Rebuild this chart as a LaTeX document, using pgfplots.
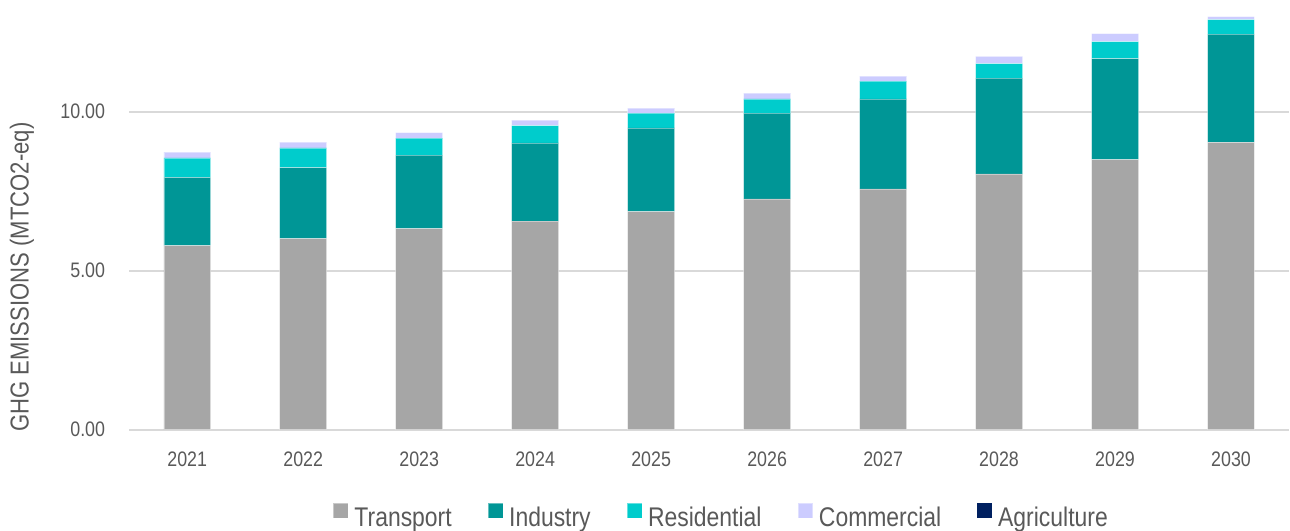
\documentclass[border=0pt]{standalone}
\usepackage{pgfplots}
\usepackage{pgfplotstable}
\pgfplotsset{compat=1.18}
\usepackage{fontspec}
\setmainfont{Liberation Sans}[FakeStretch=0.85]
\definecolor{txt}{HTML}{595959}
\definecolor{cT}{HTML}{A6A6A6}
\definecolor{cI}{HTML}{009696}
\definecolor{cR}{HTML}{00CCCC}
\definecolor{cC}{HTML}{CCCCFF}
\definecolor{cA}{HTML}{002060}
\definecolor{gridc}{HTML}{D9D9D9}
\pgfplotstableread{
x T I R C A
0 5.79 2.14 0.62 0.18 0
1 6.01 2.23 0.62 0.18 0
2 6.32 2.31 0.54 0.17 0
3 6.56 2.46 0.54 0.17 0
4 6.86 2.63 0.46 0.16 0
5 7.26 2.69 0.45 0.18 0
6 7.57 2.83 0.56 0.16 0
7 8.04 3.01 0.46 0.23 0
8 8.49 3.18 0.53 0.25 0
9 9.03 3.41 0.45 0.10 0
}\data
\begin{document}
\begin{tikzpicture}
\begin{axis}[
  scale only axis,
  width=1161pt, height=430.2pt,
  ybar stacked, bar width=47pt,
  xmin=-0.5, xmax=9.5,
  ymin=0, ymax=13.51,
  axis line style={draw=none},
  xtick=data,
  xticklabels={2021,2022,2023,2024,2025,2026,2027,2028,2029,2030},
  ytick={0,5,10},
  ymajorgrids, grid style={gridc, line width=2pt},
  major tick length=0pt,
  tick style={draw=none},
  /pgf/number format/assume math mode=true,
  yticklabel={\pgfmathprintnumber[fixed,fixed zerofill,precision=2]{\tick}},
  ticklabel style={font=\fontsize{21}{24}\selectfont, text=txt},
  yticklabel style={anchor=east, inner sep=0pt, xshift=-24pt},
  xticklabel style={anchor=north, inner sep=0pt, yshift=-22pt},
  ylabel={GHG EMISSIONS (MTCO2-eq)},
  every axis y label/.style={at={(axis description cs:-0.0925,0.355)}, rotate=90, anchor=center, inner sep=0pt, font=\fontsize{26}{30}\selectfont, text=txt},
  legend columns=5,
  legend style={at={(0.5097,-0.1995)}, anchor=center, draw=none, fill=none,
    font=\fontsize{27}{30}\selectfont, text=txt,
    nodes={inner sep=0pt},
    /tikz/every odd column/.append style={column sep=6pt},
    /tikz/every even column/.append style={column sep=36pt}},
  legend image code/.code={\fill[#1] (0pt,0pt) rectangle (15pt,15pt);},
]
\addplot[fill=cT, draw=white, draw opacity=0.4, line width=0.5pt] table[x=x,y=T]{\data};
\addplot[fill=cI, draw=white, draw opacity=0.4, line width=0.5pt] table[x=x,y=I]{\data};
\addplot[fill=cR, draw=white, draw opacity=0.4, line width=0.5pt] table[x=x,y=R]{\data};
\addplot[fill=cC, draw=white, draw opacity=0.4, line width=0.5pt] table[x=x,y=C]{\data};
\addplot[fill=cA, draw=none] table[x=x,y=A]{\data};
\legend{Transport,Industry,Residential,Commercial,Agriculture}
\end{axis}
\useasboundingbox (-129.4pt,-96.8pt) rectangle (1160.6pt,430.2pt);
\end{tikzpicture}
\end{document}
